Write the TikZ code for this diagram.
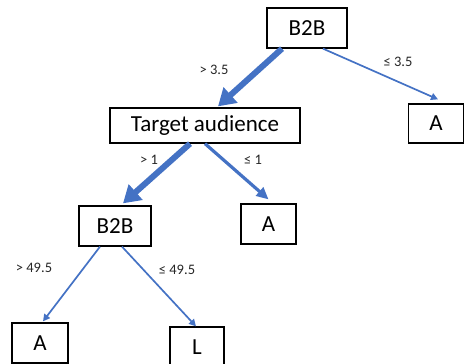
\documentclass[tikz,border=0pt]{standalone}
\usepackage{fontspec}
\setmainfont{Carlito}
\usetikzlibrary{arrows.meta}
\definecolor{edgeblue}{HTML}{4472C4}
\tikzset{
  box/.style={draw=black, line width=1.3pt, fill=white, inner sep=0pt,
    font=\fontsize{23}{25}\selectfont},
  cond/.style={font=\fontsize{14.5}{16}\selectfont, text=black!85},
  heavy/.style={draw=edgeblue, line width=6pt,
    -{Triangle[length=17pt,width=20pt]}},
  medium/.style={draw=edgeblue, line width=3.2pt,
    -{Triangle[length=12pt,width=11pt]}},
  light/.style={draw=edgeblue, line width=1.7pt,
    -{Triangle[length=7pt,width=7pt]}}
}
\begin{document}
\begin{tikzpicture}[x=1pt, y=-1pt]
\useasboundingbox (0,0) rectangle (464,364);
% tree nodes
\node[box, minimum width=80pt, minimum height=40pt] (top) at (307,28) {B2B};
\node[box, minimum width=55pt, minimum height=39pt] (ra) at (436,123.5) {A};
\node[box, minimum width=190pt, minimum height=35pt] (tgt) at (205,125.5) {Target audience};
\node[box, minimum width=72pt, minimum height=40pt] (mb) at (115,226) {B2B};
\node[box, minimum width=55pt, minimum height=40pt] (ma) at (268.5,224) {A};
\node[box, minimum width=56pt, minimum height=40pt] (ba) at (40,343) {A};
\node[box, minimum width=54pt, minimum height=40pt] (bl) at (197,347) {L};
% branches
\draw[heavy] ([xshift=-25pt]top.south) -- ([xshift=13pt,yshift=1pt]tgt.north);
\draw[light] ([xshift=16pt]top.south) -- ([xshift=2pt,yshift=4pt]ra.north);
\draw[heavy] ([xshift=-15pt]tgt.south) -- ([xshift=8pt,yshift=2pt]mb.north);
\draw[medium] (tgt.south) -- ([yshift=4pt]ma.north);
\draw[light] ([xshift=-15pt]mb.south) -- ([xshift=3pt,yshift=1pt]ba.north);
\draw[light] ([xshift=7pt]mb.south) -- ([xshift=-1pt]bl.north);
% split conditions
\node[cond] (c1) at (214,70) {> 3.5};
\node[cond] (c2) at (398,62) {≤ 3.5};
\node[cond] (c3) at (149,160) {> 1};
\node[cond] (c4) at (253,160) {≤ 1};
\node[cond] (c5) at (34,268) {> 49.5};
\node[cond] (c6) at (177,270) {≤ 49.5};
\end{tikzpicture}
\end{document}
